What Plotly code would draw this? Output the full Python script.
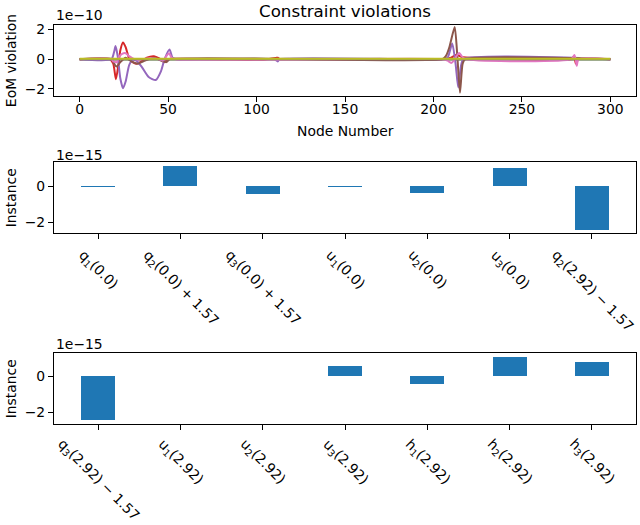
import plotly.graph_objects as go

# ---------------- data ----------------
# Top panel: EoM violation (units of 1e-10) vs node number
blue_nodes = [0, 300]
blue_vals = [0, 0]
orange_nodes = [0, 300]
orange_vals = [0, 0]
green_nodes = [0, 300]
green_vals = [0, 0]
red_nodes = [0, 17, 19, 20.5, 22, 23, 24.5, 26, 28, 30, 32, 35, 38, 42, 45, 48, 50, 55, 80, 95,
             105, 111, 112, 113, 120, 205, 210, 213, 216, 225, 240, 278, 279.5, 280.5, 282, 300]
red_vals = [0, 0, -0.3, -1.35, -0.3, 0.6, 1.12, 0.8, 0.05, -0.2, -0.3, -0.15, 0.1, 0.2, 0.05, -0.2, 0, 0.02, -0.02, -0.05,
            -0.02, 0.08, 0.1, 0, 0, 0, 0.1, 0.3, 0.15, 0.08, 0.02, 0, 0.2, -0.3, 0, 0]
purple_nodes = [0, 18, 19.5, 20.3, 21.5, 23, 24.5, 26, 28, 30, 32, 35, 39, 43, 46, 48, 50.8, 52.5, 55,
                110, 112, 113, 205, 208, 210.6, 212.5, 214, 215.5, 217, 300]
purple_vals = [0, 0, 0.5, 0.88, 0.2, -1.3, -1.95, -1.5, -0.4, -0.05, -0.1, -0.5, -1.2, -1.4, -0.8, 0, 0.65, 0.1, 0,
               0, -0.15, 0, 0, 0.1, 1.05, -0.3, -1.9, -0.5, 0, 0]
brown_nodes = [0, 18, 20, 21, 23, 26, 30, 33, 37, 42, 47, 49, 51, 205, 207, 209, 212, 213.5, 215, 216.5, 218, 300]
brown_vals = [0, 0, -0.4, -0.5, -0.2, 0.1, -0.2, -0.3, -0.1, 0.1, -0.15, -0.2, 0, 0, 0.2, 0.8, 2.15, 0.2, -2.25, -0.3, 0, 0]
pink_nodes = [0, 18, 19, 21, 22, 24, 26, 28, 30, 33, 38, 44, 47, 49, 50.5, 52, 54,
              205, 208, 210, 211.5, 213, 214.5, 216, 218, 278, 279.7, 280.5, 281, 282, 300]
pink_vals = [0, 0, -0.15, -0.2, 0.1, 0.35, 0.4, 0.2, 0.05, -0.05, 0.05, 0.02, -0.1, 0.2, 0.4, 0.1, 0,
             0, -0.1, -0.25, -0.1, 0.2, 0.42, 0.2, 0, 0, 0.28, -0.1, -0.45, 0, 0]
gray_nodes = [0, 300]
gray_vals = [0, 0]
olive_nodes = [0, 300]
olive_vals = [0.03, 0.03]

# Middle panel: instance constraint violations (units of 1e-15)
mid_labels = ["q<sub>1</sub>(0.0)", "q<sub>2</sub>(0.0) + 1.57", "q<sub>3</sub>(0.0) + 1.57",
              "u<sub>1</sub>(0.0)", "u<sub>2</sub>(0.0)", "u<sub>3</sub>(0.0)",
              "q<sub>2</sub>(2.92) − 1.57"]
mid_vals = [-0.05, 1.12, -0.43, -0.05, -0.37, 1.0, -2.45]

# Bottom panel
bot_labels = ["q<sub>3</sub>(2.92) − 1.57", "u<sub>1</sub>(2.92)", "u<sub>2</sub>(2.92)",
              "u<sub>3</sub>(2.92)", "h<sub>1</sub>(2.92)", "h<sub>2</sub>(2.92)",
              "h<sub>3</sub>(2.92)"]
bot_vals = [-2.46, 0.0, 0.0, 0.53, -0.44, 1.03, 0.75]

# ---------------- figure ----------------
W, H = 640, 525
FONT = "DejaVu Sans"
FS = 13.9

def py(px):
    return 1 - px / H

def pxx(px):
    return px / W

fig = go.Figure()

series = [
    (blue_nodes, blue_vals, "#1f77b4"),
    (orange_nodes, orange_vals, "#ff7f0e"),
    (green_nodes, green_vals, "#2ca02c"),
    (red_nodes, red_vals, "#d62728"),
    (purple_nodes, purple_vals, "#9467bd"),
    (brown_nodes, brown_vals, "#8c564b"),
    (pink_nodes, pink_vals, "#e377c2"),
    (gray_nodes, gray_vals, "#7f7f7f"),
    (olive_nodes, olive_vals, "#bcbd22"),
]
for xs, ys, c in series:
    fig.add_trace(go.Scatter(x=xs, y=ys, mode="lines", line=dict(color=c, width=2, shape="spline", smoothing=0.6),
                             xaxis="x", yaxis="y", showlegend=False))

fig.add_trace(go.Bar(x=list(range(len(mid_vals))), y=mid_vals, width=0.41, marker=dict(color="#1f77b4", line=dict(width=0)),
                     xaxis="x2", yaxis="y2", showlegend=False))
fig.add_trace(go.Bar(x=list(range(len(bot_vals))), y=bot_vals, width=0.41, marker=dict(color="#1f77b4", line=dict(width=0)),
                     xaxis="x3", yaxis="y3", showlegend=False))

xdom = [pxx(54), pxx(636)]
axcommon = dict(showline=True, linecolor="black", linewidth=1.1, mirror=True, ticks="outside",
                ticklen=5, tickwidth=1.1, tickcolor="black", showgrid=False, zeroline=False,
                tickfont=dict(family=FONT, size=FS, color="black"))

fig.update_layout(
    width=W, height=H, template="none",
    margin=dict(l=0, r=0, t=0, b=0),
    paper_bgcolor="white", plot_bgcolor="white",
    font=dict(family=FONT, size=FS, color="black"),
    bargap=0,
    xaxis=dict(domain=xdom, anchor="y", range=[-14.5, 314.5], tickvals=[0, 50, 100, 150, 200, 250, 300],
               ticklabelstandoff=-5, **axcommon),
    yaxis=dict(domain=[py(96), py(25.3)], anchor="x", range=[-2.47, 2.27], tickvals=[-2, 0, 2],
               ticktext=["−2", "0", "2"], **axcommon),
    xaxis2=dict(domain=xdom, anchor="y2", range=[-0.535, 6.535], tickvals=list(range(7)), showticklabels=False, **axcommon),
    yaxis2=dict(domain=[py(233.3), py(162.3)], anchor="x2", range=[-2.633, 1.345], tickvals=[-2, 0],
                ticktext=["−2", "0"], **axcommon),
    xaxis3=dict(domain=xdom, anchor="y3", range=[-0.535, 6.535], tickvals=list(range(7)), showticklabels=False, **axcommon),
    yaxis3=dict(domain=[py(424.3), py(353.3)], anchor="x3", range=[-2.66, 1.25], tickvals=[-2, 0],
                ticktext=["−2", "0"], **axcommon),
)

ann = []
# title
ann.append(dict(text="Constraint violations", x=pxx(345), y=py(11), xref="paper", yref="paper",
                xanchor="center", yanchor="middle", showarrow=False, font=dict(size=16.7)))
# offset texts
for txt, yc in [("1e−10", 15.5), ("1e−15", 155), ("1e−15", 344)]:
    ann.append(dict(text=txt, x=pxx(54), y=py(yc), xref="paper", yref="paper", xanchor="left",
                    yanchor="middle", showarrow=False))
# axis titles
ann.append(dict(text="Node Number", x=pxx(345), y=py(131), xref="paper", yref="paper",
                xanchor="center", yanchor="middle", showarrow=False))
for txt, yc in [("EoM violation", 60.65), ("Instance", 197.8), ("Instance", 388.8)]:
    ann.append(dict(text=txt, x=pxx(10.5), y=py(yc), xref="paper", yref="paper", xanchor="center",
                    yanchor="middle", textangle=-90, showarrow=False))
# rotated category labels
for i, lab in enumerate(mid_labels):
    ann.append(dict(text=lab, x=i, xref="x2", y=py(244), yref="paper", xanchor="center", yanchor="top",
                    textangle=45, showarrow=False))
for i, lab in enumerate(bot_labels):
    ann.append(dict(text=lab, x=i, xref="x3", y=py(433), yref="paper", xanchor="center", yanchor="top",
                    textangle=45, showarrow=False))
fig.update_layout(annotations=ann)

fig.write_html("out.html")
